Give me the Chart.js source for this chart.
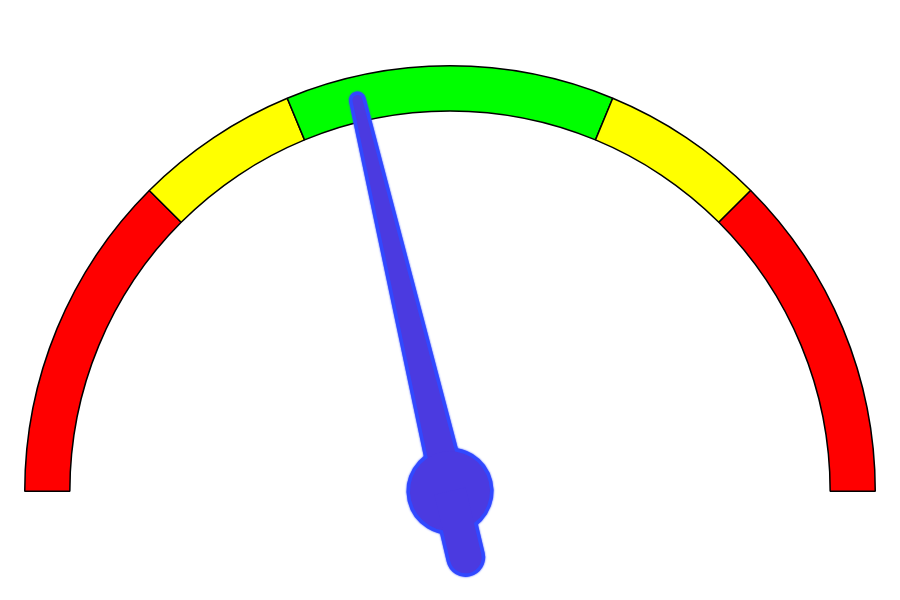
<!DOCTYPE html>
<html>
<head>
<meta charset="utf-8">
<script src="https://cdn.jsdelivr.net/npm/chart.js@4"></script>
<style>
  html, body { margin: 0; padding: 0; background: #fff; }
  #wrap { width: 900px; height: 600px; }
</style>
</head>
<body>
<div id="wrap"><canvas id="gauge"></canvas></div>
<script>
// gauge bands, sizes in value units (0 - 100)
const bands = ["low", "warn", "ok", "warn", "high"];
const bandSizes = [25, 12.5, 25, 12.5, 25];
const bandColors = ["#ff0000", "#ffff00", "#00ff00", "#ffff00", "#ff0000"];
const needleValue = 42.6;

// draws the needle on top of the half doughnut
const needle = {
  id: "needle",
  afterDatasetsDraw(chart) {
    const arc = chart.getDatasetMeta(0).data[0];
    const total = bandSizes.reduce((a, b) => a + b, 0);
    const ang = -Math.PI + (needleValue / total) * Math.PI;
    const len = arc.outerRadius * 0.945;
    const tail = arc.outerRadius * 0.16;
    const ctx = chart.ctx;

    // three pieces: pointer, hub, tail
    const pieces = [
      () => {
        ctx.moveTo(0, -15);
        ctx.lineTo(len, -5);
        ctx.arc(len, 0, 5, -Math.PI / 2, Math.PI / 2);
        ctx.lineTo(0, 15);
        ctx.closePath();
      },
      () => ctx.arc(0, 0, 40, 0, Math.PI * 2),
      () => {
        ctx.moveTo(0, -16);
        ctx.lineTo(-tail, -16);
        ctx.arc(-tail, 0, 16, -Math.PI / 2, Math.PI / 2, true);
        ctx.lineTo(0, 16);
        ctx.closePath();
      },
    ];

    ctx.save();
    ctx.translate(arc.x, arc.y);
    ctx.rotate(ang);
    ctx.lineJoin = "round";
    ctx.shadowColor = "#2f4bff";
    ctx.shadowBlur = 2;
    ctx.lineWidth = 7;
    ctx.strokeStyle = "#3148ff";
    pieces.forEach((p) => { ctx.beginPath(); p(); ctx.stroke(); });
    ctx.shadowBlur = 0;
    ctx.fillStyle = "#4b3ae0";
    pieces.forEach((p) => { ctx.beginPath(); p(); ctx.fill(); });
    ctx.restore();
  }
};

new Chart(document.getElementById("gauge"), {
  type: "doughnut",
  data: {
    labels: bands,
    datasets: [{
      data: bandSizes,
      backgroundColor: bandColors,
      borderColor: "#000",
      borderWidth: 1.5,
    }],
  },
  options: {
    responsive: true,
    maintainAspectRatio: false,
    animation: false,
    rotation: -90,
    circumference: 180,
    cutout: "89.4%",
    layout: { padding: { top: 65, left: 24, right: 24, bottom: 108 } },
    plugins: { legend: { display: false }, tooltip: { enabled: false } },
  },
  plugins: [needle],
});
</script>
</body>
</html>
